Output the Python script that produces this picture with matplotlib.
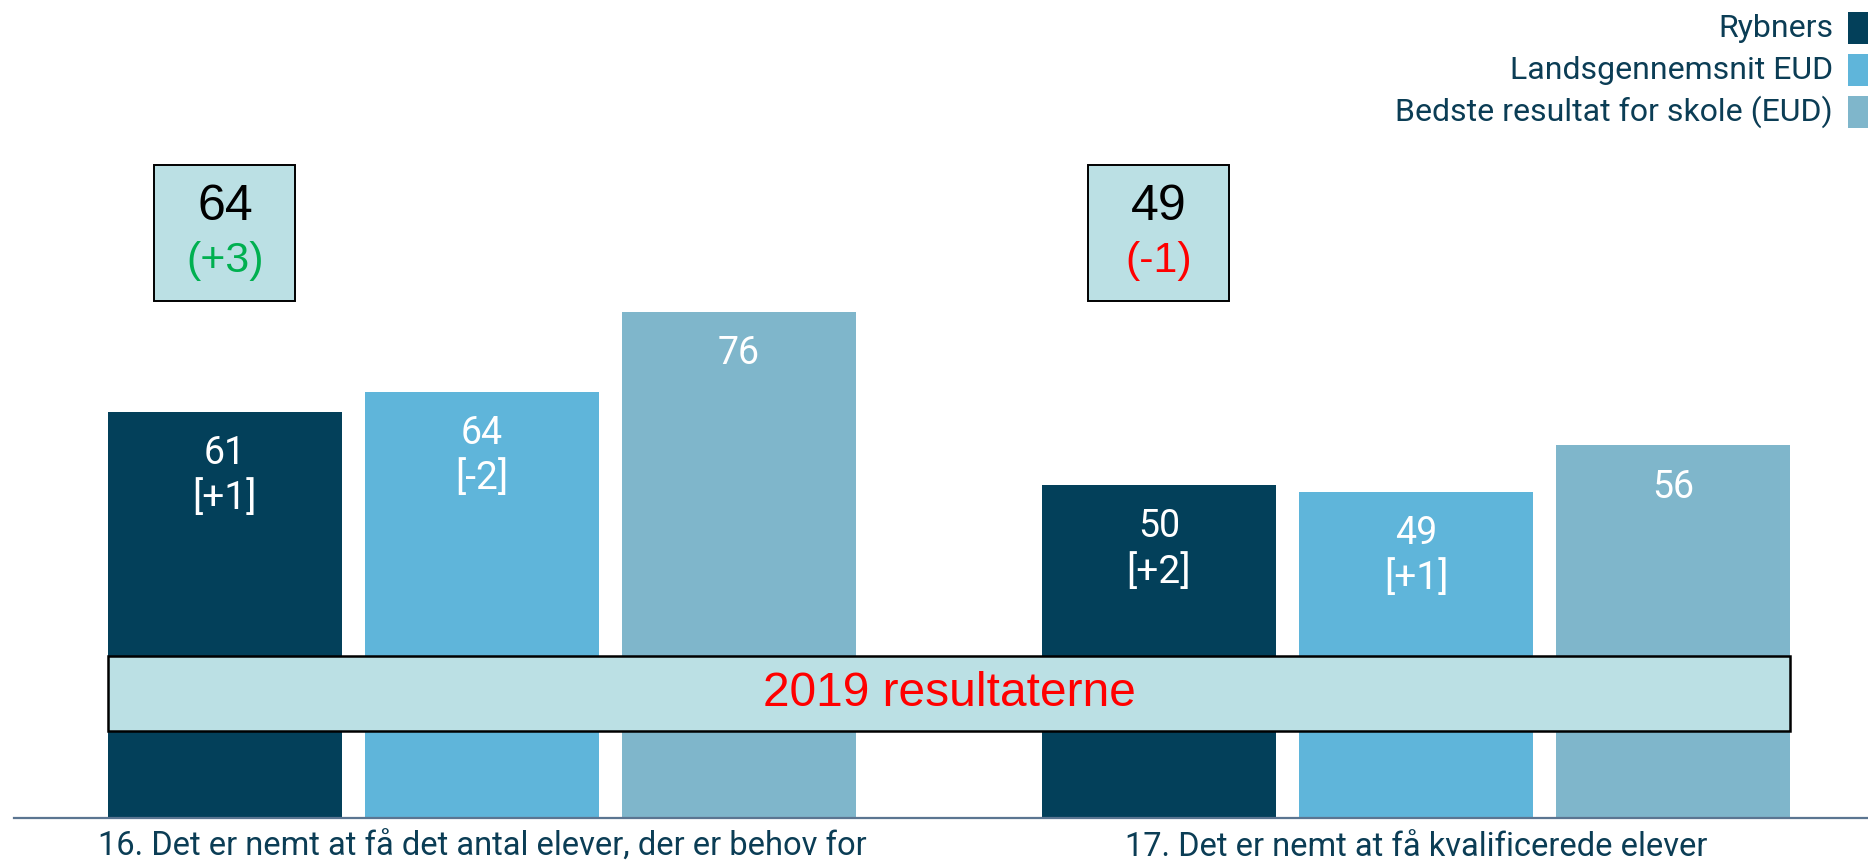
import matplotlib
matplotlib.use('Agg')
import matplotlib.pyplot as plt
from matplotlib.patches import Rectangle
import numpy as np

# ---------------- data ----------------
categories = ["16. Det er nemt at få det antal elever, der er behov for",
              "17. Det er nemt at få kvalificerede elever"]
series_names = ["Rybners", "Landsgennemsnit EUD", "Bedste resultat for skole (EUD)"]
rybners = [61, 50]
lands = [64, 49]
bedste = [76, 56]
rybners_change = ["[+1]", "[+2]"]
lands_change = ["[-2]", "[+1]"]
bedste_change = ["", ""]
box_values = [64, 49]
box_changes = ["(+3)", "(-1)"]
box_change_colors = ["#00b050", "#ff0000"]
banner_text = "2019 resultaterne"

colors = ["#03405a", "#5fb5da", "#7fb6cb"]
box_fill = "#bbe0e4"
text_dark = "#0b3d55"

# ---------------- layout ----------------
W, H = 1868, 862
fig = plt.figure(figsize=(W / 100 + 0.0001, H / 100 + 0.0001), dpi=100)
axis_y_px = 818
left_px = 14
ax = fig.add_axes([left_px / W, (H - axis_y_px) / H, (W - left_px) / W, axis_y_px / H])
group_px = 934.0
g0_px = 482.0
ax.set_xlim((left_px - g0_px) / group_px, (W - g0_px) / group_px)
px_per_unit = 6.66
ax.set_ylim(0, axis_y_px / px_per_unit)

x = np.arange(len(categories))
step = 0.2752
width = 0.2505
series = [rybners, lands, bedste]
changes = [rybners_change, lands_change, bedste_change]

main_font = ['Roboto', 'DejaVu Sans']
arial = ['Liberation Sans', 'DejaVu Sans']

for i, (vals, chg) in enumerate(zip(series, changes)):
    xs = x + (i - 1) * step
    ax.bar(xs, vals, width=width, color=colors[i], zorder=2, label=series_names[i])
    for xi, v, c in zip(xs, vals, chg):
        ax.text(xi, v - 6.3, str(v), ha='center', va='center', color='white',
                fontsize=27, family=main_font, zorder=3)
        if c:
            ax.text(xi, v - 13.0, c, ha='center', va='center', color='white',
                    fontsize=28, family=main_font, zorder=3)

# banner
bx0 = x[0] - step - width / 2
bx1 = x[-1] + step + width / 2
ax.add_patch(Rectangle((bx0, 13.1), bx1 - bx0, 11.2, facecolor=box_fill,
                       edgecolor='black', lw=1.8, zorder=4))
ax.text((bx0 + bx1) / 2, 18.7, banner_text, ha='center', va='center', color='#ff0000',
        fontsize=34.5, family=arial, zorder=5)

# top boxes
bw = 141 / group_px
for xi, bv, bc, col in zip(x, box_values, box_changes, box_change_colors):
    cx = xi - step
    ax.add_patch(Rectangle((cx - bw / 2, 77.6), bw, 20.4, facecolor=box_fill,
                           edgecolor='black', lw=1.4, zorder=4))
    ax.text(cx, 91.8, str(bv), ha='center', va='center', color='black',
            fontsize=36, family=arial, zorder=5)
    ax.text(cx, 83.6, bc, ha='center', va='center', color=col,
            fontsize=31, family=arial, zorder=5)

# axes styling
for s in ['top', 'right', 'left']:
    ax.spines[s].set_visible(False)
ax.spines['bottom'].set_color('#5b7591')
ax.spines['bottom'].set_linewidth(1.6)
ax.set_yticks([])
ax.set_xticks(x)
ax.set_xticklabels(categories, fontsize=23.5, color=text_dark, family=main_font)
ax.tick_params(axis='x', length=0, pad=9)

# legend (manual)
leg_rows_px = [28, 70, 112]
for name, col, yc in zip(series_names, colors, leg_rows_px):
    fig.text(1833 / W, 1 - yc / H, name, ha='right', va='center', color=text_dark,
             fontsize=23, family=main_font)
    fig.patches.append(Rectangle((1848 / W, 1 - (yc + 16) / H), 24 / W, 32 / H,
                                 facecolor=col, edgecolor='none',
                                 transform=fig.transFigure, figure=fig))

fig.savefig('out.png', dpi=100)
